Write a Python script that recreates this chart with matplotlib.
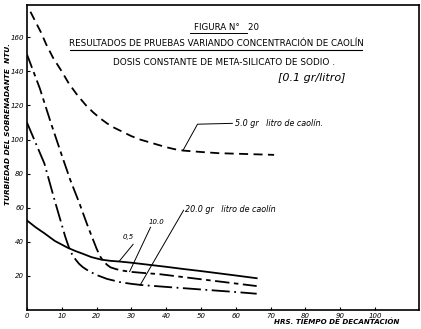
import numpy as np
import matplotlib.pyplot as plt

plt.rcParams["font.family"] = "DejaVu Sans"
plt.rcParams["font.size"] = 5

# Data (hours, NTU)
x_5 = [1, 2.5, 4, 5.5, 7.5, 10, 12, 14.5, 17, 19, 21, 23, 25, 27.5, 30, 32.5,
       35, 37.5, 40, 42.5, 45, 50, 55, 63, 71]
y_5 = [175, 169, 163, 156, 148, 140, 133, 126, 120, 116, 112.5, 109.5, 107,
       104.5, 102, 100, 98.5, 97, 95.5, 94.3, 93.5, 92.7, 92, 91.5, 91]

x_05 = [0, 2.5, 5, 8, 11.7, 14, 16, 18.5, 21.4, 24, 26.6, 30, 35, 40, 45, 50,
        55, 60, 66]
y_05 = [52.5, 48.5, 45, 40.5, 36.5, 34.5, 33, 31, 29.5, 28.8, 28.4, 27.7,
        26.5, 25.3, 24, 22.8, 21.5, 20.2, 18.6]

x_10 = [0, 3.7, 7, 10.3, 12.5, 15, 17.5, 20, 21, 22, 23, 24, 25.5, 27, 30, 34,
        38, 44, 50, 58, 66]
y_10 = [150, 130, 109, 89, 76, 63, 49, 36, 31.5, 28.5, 26.5, 25, 24, 23.2,
        22.3, 21.6, 21, 19.5, 18, 16, 14]

x_20 = [0, 2.5, 5, 8, 10, 11, 12, 13, 14, 15, 16, 17, 18, 20, 23, 27, 30, 33,
        40, 50, 60, 66]
y_20 = [110, 98, 86, 64, 50, 43, 37, 32.5, 29.5, 27, 25.2, 23.8, 22.6, 20.5,
        18.2, 16.2, 15.3, 14.6, 13.5, 12, 10.5, 9.5]

x_ticks = [0, 10, 20, 30, 40, 50, 60, 70, 80, 90, 100]
y_ticks = [20, 40, 60, 80, 100, 120, 140, 160]

fig = plt.figure(figsize=(4.21, 3.29), dpi=100)
ax = fig.add_axes([0.064, 0.058, 0.931, 0.927])

lw = 1.3
ax.plot(x_5, y_5, color="black", lw=lw, dashes=(5, 3))
ax.plot(x_05, y_05, color="black", lw=lw)
ax.plot(x_10, y_10, color="black", lw=lw, dashes=(8, 2.5, 2.5, 2.5))
ax.plot(x_20, y_20, color="black", lw=lw, dashes=(10, 2.5, 1, 2.5))

ax.set_xlim(0, 112.6)
ax.set_ylim(0, 179)
ax.set_xticks(x_ticks)
ax.set_yticks(y_ticks)
ax.set_xticklabels([str(v) for v in x_ticks], fontstyle="italic")
ax.set_yticklabels([str(v) for v in y_ticks], fontstyle="italic")
ax.tick_params(direction="in", length=2, width=0.8, pad=2)
for s in ax.spines.values():
    s.set_linewidth(1.2)

# leaders and labels
ax.plot([44.8, 49, 59], [93.5, 109, 109.5], color="black", lw=0.7)
ax.text(59.8, 109.5, "5.0 gr   litro de caolín.", fontstyle="italic",
        fontsize=5.8, va="center")
ax.plot([26.6, 30.5], [28.8, 38.5], color="black", lw=0.7)
ax.text(27.5, 41.5, "0,5", fontstyle="italic", fontsize=5)
ax.plot([29.5, 35.5], [22.5, 48.5], color="black", lw=0.7)
ax.text(35, 50.5, "10.0", fontstyle="italic", fontsize=5)
ax.plot([32.5, 45], [14.5, 58.5], color="black", lw=0.7)
ax.text(45.5, 59, "20.0 gr   litro de caolín", fontstyle="italic",
        fontsize=5.8, va="center")

# titles
fig.text(0.539, 0.915, "FIGURA N°   20", fontsize=6.2, ha="center",
         va="center")
fig.add_artist(plt.Line2D([0.451, 0.587], [0.899, 0.899], color="black", lw=0.7))
fig.text(0.513, 0.869, "RESULTADOS DE PRUEBAS VARIANDO CONCENTRACIÓN DE CAOLÍN",
         fontsize=6.3, ha="center", va="center")
fig.add_artist(plt.Line2D([0.166, 0.86], [0.848, 0.848], color="black", lw=0.8))
fig.text(0.531, 0.809, "DOSIS CONSTANTE DE META-SILICATO DE SODIO .",
         fontsize=6.4, ha="center", va="center")
fig.text(0.741, 0.763, "[0.1 gr/litro]", fontsize=8, ha="center",
         va="center", fontstyle="italic")

fig.text(0.018, 0.623, "TURBIEDAD DEL SOBRENADANTE  NTU.", rotation=90,
         fontsize=5.3, ha="center", va="center", fontstyle="italic",
         fontweight="bold")
fig.text(0.80, 0.015, "HRS. TIEMPO DE DECANTACIÓN", fontsize=5.1,
         ha="center", fontstyle="italic", fontweight="bold")

plt.savefig("out.png", dpi=100)
